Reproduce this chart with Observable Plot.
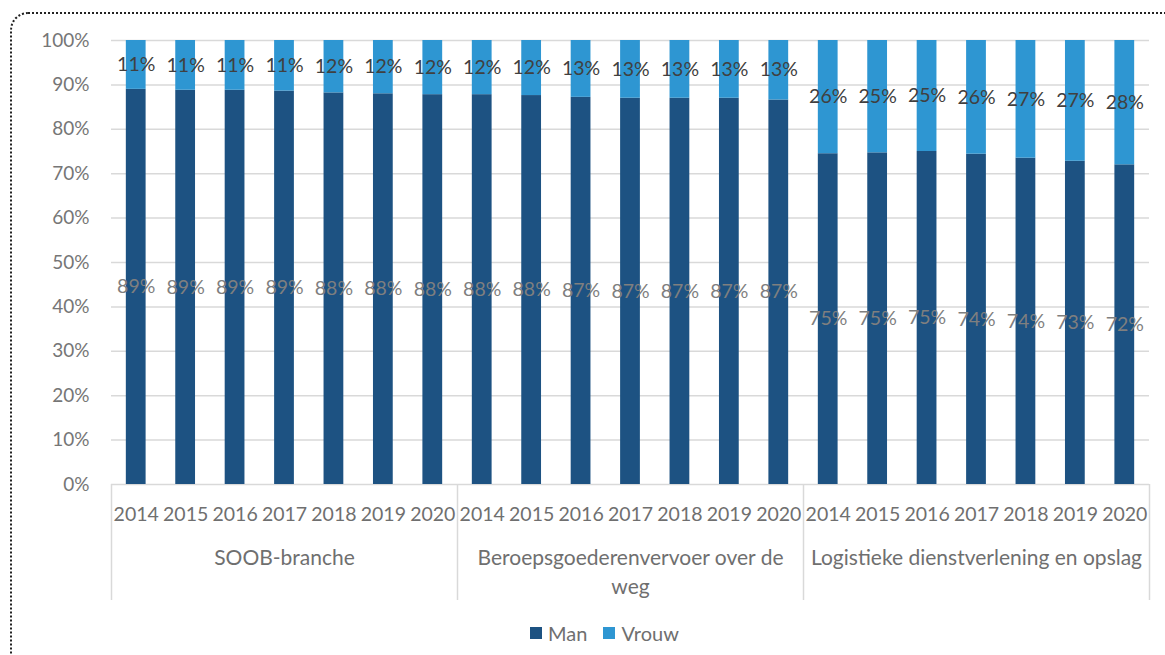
<!DOCTYPE html>
<html>
<head>
<meta charset="utf-8">
<script src="https://cdn.jsdelivr.net/npm/d3@7"></script>
<script src="https://cdn.jsdelivr.net/npm/@observablehq/plot@0.6"></script>
<style>
  html, body { margin: 0; padding: 0; background: #fff; overflow: hidden; }
  #wrap { position: relative; width: 1165px; height: 655px; }
  #frame { position: absolute; left: 10px; top: 12px; width: 1250px; height: 760px;
           border: 2px dotted #222; border-radius: 18px; box-sizing: border-box; }
  #chart { position: absolute; left: 0; top: 0; }
  #legend { position: absolute; left: 0; width: 1165px; top: 621px; display: flex; justify-content: center;
            padding-left: 44px; box-sizing: border-box;
            font-family: Lato, sans-serif; font-size: 20px; color: #6f6f6f; }
  .item { display: flex; align-items: center; margin: 0 8px; }
  .sw { width: 12px; height: 12px; margin-right: 6px; }
</style>
</head>
<body>
<div id="wrap">
  <div id="frame"></div>
  <div id="chart"></div>
  <div id="legend"></div>
</div>
<script>
const groups = ["SOOB-branche", "Beroepsgoederenvervoer over de weg", "Logistieke dienstverlening en opslag"];
const groupLabels = ["SOOB-branche", "Beroepsgoederenvervoer over de\nweg", "Logistieke dienstverlening en opslag"];
const years = ["2014", "2015", "2016", "2017", "2018", "2019", "2020"];
const seriesNames = ["Man", "Vrouw"];
const seriesColors = ["#1d5282", "#2e96d2"];

// Share (%) per year
const manSOOB      = [89.0, 88.8, 88.8, 88.6, 88.2, 88.0, 87.8];
const vrouwSOOB    = [11.0, 11.2, 11.2, 11.4, 11.8, 12.0, 12.2];
const manBeroeps   = [87.8, 87.6, 87.2, 87.0, 87.0, 87.0, 86.6];
const vrouwBeroeps = [12.2, 12.4, 12.8, 13.0, 13.0, 13.0, 13.4];
const manLogistiek   = [74.5, 74.7, 75.0, 74.4, 73.5, 72.8, 72.0];
const vrouwLogistiek = [25.5, 25.3, 25.0, 25.6, 26.5, 27.2, 28.0];

const yTicks = [0, 10, 20, 30, 40, 50, 60, 70, 80, 90, 100];

const manByGroup = [manSOOB, manBeroeps, manLogistiek];
const vrouwByGroup = [vrouwSOOB, vrouwBeroeps, vrouwLogistiek];

const keyOf = (gi, yr) => gi + "|" + yr;
const keys = [];
groups.forEach((g, gi) => years.forEach(yr => keys.push(keyOf(gi, yr))));

const rows = [];
groups.forEach((g, gi) => years.forEach((yr, yi) => {
  const m = manByGroup[gi][yi], v = vrouwByGroup[gi][yi];
  rows.push({key: keyOf(gi, yr), year: yr, series: "Man", value: m, mid: m / 2});
  rows.push({key: keyOf(gi, yr), year: yr, series: "Vrouw", value: v, mid: m + v / 2});
}));
const yearRows = keys.map(k => ({key: k, year: k.split("|")[1]}));
const groupRows = groups.map((g, gi) => ({key: keyOf(gi, years[3]), label: groupLabels[gi]}));
const firstKeys = groups.map((g, gi) => keyOf(gi, years[0]));
const lastKeys = [keyOf(groups.length - 1, years[years.length - 1])];

const W = 1165, H = 612, ML = 111, MR = 16, MT = 40, MB = 128;
const step = (W - ML - MR) / keys.length;
const plotH = H - MT - MB;

const chart = Plot.plot({
  width: W, height: H,
  marginLeft: ML, marginRight: MR, marginTop: MT, marginBottom: MB,
  style: {fontFamily: "Lato, sans-serif", fontSize: "19px", color: "#767676", background: "transparent", overflow: "visible"},
  x: {domain: keys, paddingInner: 0.6, paddingOuter: 0.3, align: 0.5, round: false, axis: null},
  y: {domain: [0, 100], ticks: yTicks, tickFormat: d => d + "%", tickSize: 0, tickPadding: 22, label: null},
  color: {domain: seriesNames, range: seriesColors},
  marks: [
    Plot.ruleY(yTicks, {stroke: "#d9d9d9", strokeWidth: 1.5}),
    Plot.barY(rows, {x: "key", y: "value", fill: "series"}),
    Plot.text(rows.filter(d => d.series === "Man"), {x: "key", y: "mid", text: d => Math.round(d.value) + "%", fill: "#7f7f7f", fontSize: 19.5}),
    Plot.text(rows.filter(d => d.series === "Vrouw"), {x: "key", y: "mid", text: d => Math.round(d.value) + "%", fill: "#404040", fontSize: 19.5}),
    Plot.ruleX(firstKeys, {x: d => d, dx: -step / 2, insetTop: plotH, insetBottom: -116, stroke: "#d9d9d9", strokeWidth: 1.5}),
    Plot.ruleX(lastKeys, {x: d => d, dx: step / 2, insetTop: plotH, insetBottom: -116, stroke: "#d9d9d9", strokeWidth: 1.5}),
    Plot.text(yearRows, {x: "key", text: "year", frameAnchor: "bottom", dy: 36, fill: "#6f6f6f", fontSize: 19.5}),
    Plot.text(groupRows, {x: "key", text: "label", frameAnchor: "bottom", lineAnchor: "top", dy: 59, lineHeight: 1.42, fill: "#6f6f6f", fontSize: 21, letterSpacing: "0.2px"})
  ]
});
document.getElementById("chart").appendChild(chart);

const legend = document.getElementById("legend");
seriesNames.forEach((s, i) => {
  const it = document.createElement("div");
  it.className = "item";
  it.innerHTML = `<span class="sw" style="background:${seriesColors[i]}"></span><span>${s}</span>`;
  legend.appendChild(it);
});
</script>
</body>
</html>
